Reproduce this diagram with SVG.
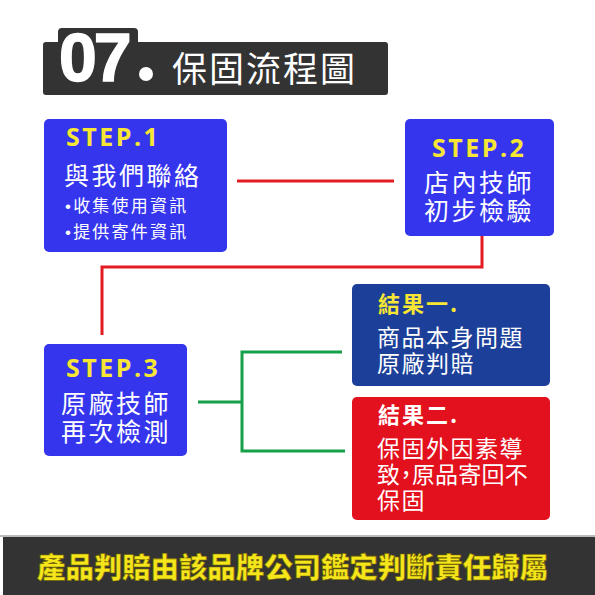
<svg xmlns="http://www.w3.org/2000/svg" width="595" height="595" viewBox="0 0 595 595">
<style>
.cjk{font-family:"Noto Sans CJK TC","Noto Sans CJK SC",sans-serif;fill:#fff}
.step{font-family:"Open Sans","Noto Sans",sans-serif;font-weight:700;fill:#f7e633;font-size:25px;letter-spacing:2.5px}
.big{font-size:25px;letter-spacing:2.5px}
.small{font-size:17px;letter-spacing:2.2px}
.bul{font-family:"Liberation Sans",Arial,sans-serif}
.res{font-size:23px;letter-spacing:1.5px;font-feature-settings:"halt"}
.hd{font-size:22px;font-weight:700;letter-spacing:2px}
.conn{fill:none;stroke-width:3}
</style>
<rect width="595" height="595" fill="#fff"/>
<g id="title">
<rect x="43" y="42" width="345" height="53" rx="3" fill="#333"/>
<rect x="58" y="28" width="80" height="30" rx="4" fill="#333"/>
<text x="59" y="81" font-family="Liberation Sans,Arial,sans-serif" font-weight="700" font-size="68" fill="#fff" stroke="#fff" stroke-width="1.5" letter-spacing="-3">07</text>
<circle cx="146" cy="74" r="7" fill="#fff"/>
<text x="172" y="82" class="cjk" font-size="35" letter-spacing="2">保固流程圖</text>
</g>
<g id="connectors">
<polyline class="conn" stroke="#e31b23" points="237,181 394,181"/>
<polyline class="conn" stroke="#e31b23" points="482,236 482,267 102,267 102,335"/>
<polyline class="conn" stroke="#17a04a" points="198,402 242,402"/>
<polyline class="conn" stroke="#17a04a" points="342,352 242,352 242,451 345,451"/>
</g>
<g id="step1">
<rect x="44" y="119" width="183" height="133" rx="5" fill="#3535ee"/>
<text x="66" y="146" class="step">STEP.1</text>
<text x="64" y="185" class="cjk big">與我們聯絡</text>
<text x="65" y="212" class="cjk small"><tspan class="bul">•</tspan>收集使用資訊</text>
<text x="65" y="238" class="cjk small"><tspan class="bul">•</tspan>提供寄件資訊</text>
</g>
<g id="step2">
<rect x="405" y="119" width="149" height="117" rx="5" fill="#3535ee"/>
<text x="432" y="157" class="step">STEP.2</text>
<text x="424" y="192" class="cjk big">店內技師</text>
<text x="424" y="220" class="cjk big">初步檢驗</text>
</g>
<g id="step3">
<rect x="44" y="344" width="143" height="112" rx="5" fill="#3535ee"/>
<text x="66" y="377" class="step">STEP.3</text>
<text x="61" y="413" class="cjk big">原廠技師</text>
<text x="61" y="441" class="cjk big">再次檢測</text>
</g>
<g id="result1">
<rect x="352" y="284" width="198" height="102" rx="5" fill="#1c3f99"/>
<text x="378" y="312" class="cjk hd" style="fill:#f7e633">結果一.</text>
<text x="377" y="346" class="cjk res">商品本身問題</text>
<text x="377" y="372" class="cjk res">原廠判賠</text>
</g>
<g id="result2">
<rect x="352" y="397" width="198" height="123" rx="5" fill="#e3101d"/>
<text x="378" y="423" class="cjk hd">結果二.</text>
<text x="377" y="457" class="cjk res">保固外因素導</text>
<text x="377" y="483" class="cjk res" style="letter-spacing:0.2px">致，原品寄回不</text>
<text x="377" y="509" class="cjk res">保固</text>
</g>
<g id="footer">
<rect x="0" y="535" width="595" height="2" fill="#bbb"/>
<rect x="3" y="537" width="592" height="58" fill="#333"/>
<text x="37" y="578" font-family="Noto Sans CJK TC,sans-serif" font-weight="900" font-size="28.4" fill="#f5e51b" stroke="#7a6a00" stroke-width="0.6">產品判賠由該品牌公司鑑定判斷責任歸屬</text>
</g>
</svg>
